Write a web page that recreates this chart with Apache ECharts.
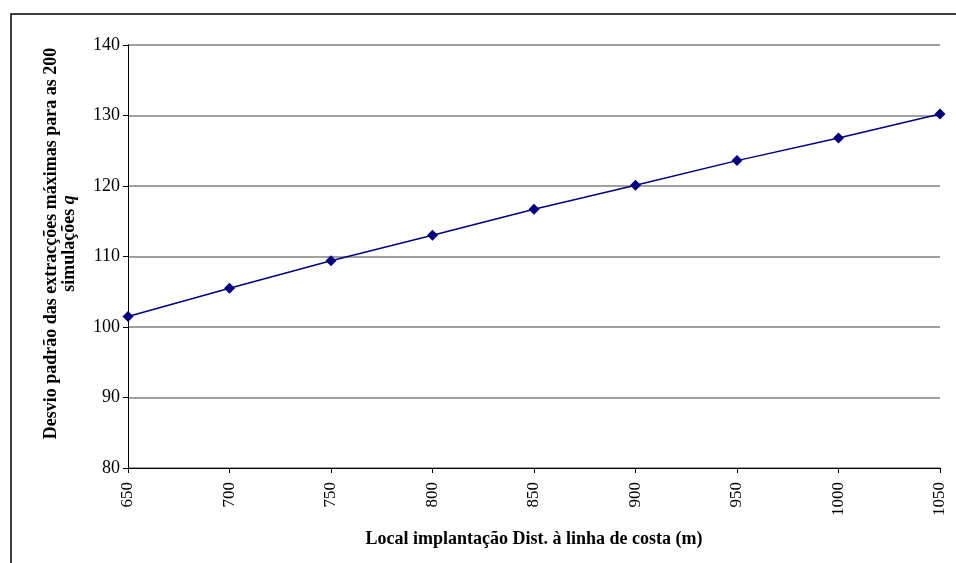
<!DOCTYPE html>
<html>
<head>
<meta charset="utf-8">
<script src="https://cdn.jsdelivr.net/npm/echarts@6/dist/echarts.min.js"></script>
<style>
html,body{margin:0;padding:0;background:#fff;}
#c{width:956px;height:563px;}
</style>
</head>
<body>
<div id="c"></div>
<script>
const distances = [650, 700, 750, 800, 850, 900, 950, 1000, 1050];
const desvio = [101.5, 105.5, 109.4, 113.0, 116.7, 120.1, 123.6, 126.8, 130.2];
const yTitleLine1 = 'Desvio padrão das extracções máximas para as 200';
const yTitleLine2 = 'simulações ';
const xTitle = 'Local implantação Dist. à linha de costa (m)';

const font = '"Liberation Serif", "Times New Roman", serif';
const chart = echarts.init(document.getElementById('c'));
chart.setOption({
  animation: false,
  backgroundColor: '#fff',
  graphic: [{
    type: 'rect',
    shape: {x: 11, y: 14, width: 960, height: 600},
    style: {fill: 'none', stroke: '#000', lineWidth: 1.5},
    silent: true
  }],
  grid: {left: 128, right: 16, top: 45, bottom: 95},
  xAxis: {
    type: 'value',
    min: 650, max: 1050, interval: 50,
    name: xTitle,
    nameLocation: 'middle',
    nameGap: 62,
    nameTextStyle: {fontFamily: font, fontSize: 18, fontWeight: 'bold', color: '#000'},
    axisLine: {lineStyle: {color: '#000', width: 1}},
    axisTick: {show: true, length: 5, lineStyle: {color: '#000'}},
    axisLabel: {rotate: 90, fontFamily: font, fontSize: 17, color: '#000', margin: 14,
      formatter: v => String(v)},
    splitLine: {show: false}
  },
  yAxis: {
    type: 'value',
    min: 80, max: 140, interval: 10,
    name: '{b|' + yTitleLine1 + '}\n{b|' + yTitleLine2 + '}{i|q}',
    nameLocation: 'middle',
    nameGap: 50,
    nameRotate: 90,
    nameTextStyle: {
      fontFamily: font, fontSize: 18, fontWeight: 'bold', color: '#000', lineHeight: 18,
      padding: [0, 0, 0, 26],
      rich: {
        b: {fontFamily: font, fontSize: 18, fontWeight: 'bold', color: '#000', lineHeight: 18},
        i: {fontFamily: font, fontSize: 18, fontWeight: 'bold', fontStyle: 'italic', color: '#000', lineHeight: 18}
      }
    },
    axisLine: {show: true, lineStyle: {color: '#000', width: 1}},
    axisTick: {show: true, length: 5, lineStyle: {color: '#000'}},
    axisLabel: {fontFamily: font, fontSize: 18, color: '#000', margin: 8},
    splitLine: {show: true, lineStyle: {color: '#808080', width: 1.5}}
  },
  series: [{
    type: 'line',
    data: distances.map((d, i) => [d, desvio[i]]),
    symbol: 'diamond',
    symbolSize: 11,
    lineStyle: {color: '#000080', width: 1.5},
    itemStyle: {color: '#000080'},
    z: 5
  }]
});
</script>
</body>
</html>
